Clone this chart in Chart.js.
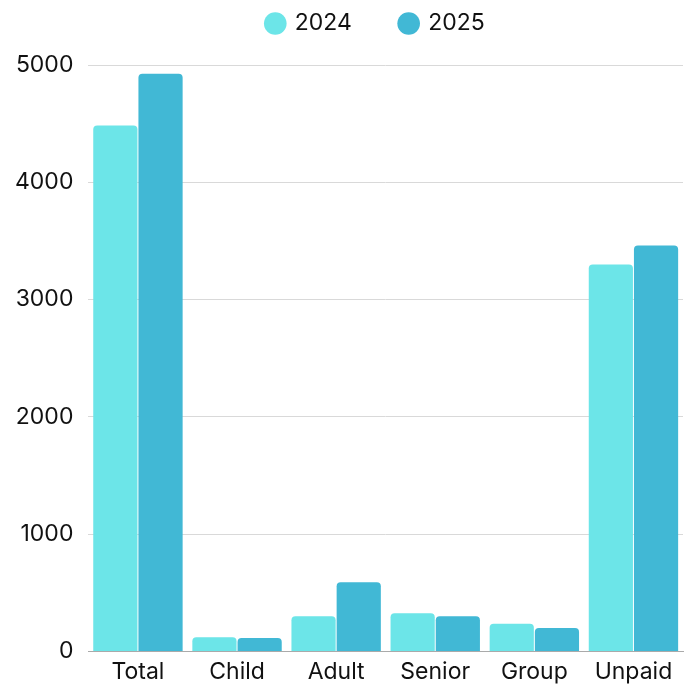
<!DOCTYPE html>
<html>
<head>
<meta charset="utf-8">
<script src="https://cdn.jsdelivr.net/npm/chart.js@4/dist/chart.umd.min.js"></script>
<style>
  html, body { margin: 0; padding: 0; background: #fff; }
  #wrap { width: 688px; height: 688px; }
</style>
</head>
<body>
<div id="wrap"><canvas id="chart"></canvas></div>
<script>
var categories = ["Total", "Child", "Adult", "Senior", "Group", "Unpaid"];
var values2024 = [4485, 120, 300, 325, 235, 3300];
var values2025 = [4925, 115, 590, 300, 200, 3460];
var yTicks = [0, 1000, 2000, 3000, 4000, 5000];

Chart.defaults.font.family = "Inter, 'Noto Sans', sans-serif";
Chart.defaults.color = "#111";

// extra room between legend and plot
var legendGap = {
    id: 'legendGap',
    beforeUpdate: function(chart) {
        var lg = chart.legend;
        if (lg && !lg._gapDone) {
            var fit = lg.fit;
            lg.fit = function() {
                fit.call(this);
                this.height += 20;
            };
            lg._gapDone = true;
        }
    }
};

var ctx = document.getElementById('chart');
new Chart(ctx, {
    type: 'bar',
    data: {
        labels: categories,
        datasets: [{
            label: "2024",
            data: values2024,
            backgroundColor: '#6ce5e8',
            borderRadius: { topLeft: 4, topRight: 4 },
            borderSkipped: 'bottom',
            categoryPercentage: 0.912,
            barPercentage: 0.978
        }, {
            label: "2025",
            data: values2025,
            backgroundColor: '#41b8d5',
            borderRadius: { topLeft: 4, topRight: 4 },
            borderSkipped: 'bottom',
            categoryPercentage: 0.912,
            barPercentage: 0.978
        }]
    },
    plugins: [legendGap],
    options: {
        responsive: true,
        maintainAspectRatio: false,
        animation: false,
        layout: { padding: { left: 0, right: 5, bottom: -5, top: 2 } },
        plugins: {
            legend: {
                position: 'top',
                fullSize: false,
                labels: {
                    usePointStyle: true,
                    pointStyle: 'circle',
                    boxWidth: 16,
                    boxHeight: 16,
                    padding: 10,
                    font: { size: 23 },
                    generateLabels: function(chart) {
                        var items = Chart.defaults.plugins.legend.labels.generateLabels(chart);
                        // spacing between entries, and nudge the row a bit left
                        items[0].text = items[0].text + "      ";
                        items[1].text = items[1].text + "   ";
                        return items;
                    }
                }
            },
            tooltip: { enabled: false }
        },
        scales: {
            x: {
                grid: { display: false, drawTicks: false },
                border: { color: '#aaa' },
                ticks: { font: { size: 23 }, padding: 7 }
            },
            y: {
                min: 0,
                max: 5000,
                afterBuildTicks: function(axis) {
                    axis.ticks = yTicks.map(function(v) { return { value: v }; });
                },
                grid: { color: '#d9d9d9', drawTicks: false },
                border: { display: false },
                ticks: {
                    font: { size: 23 },
                    padding: 15,
                    callback: function(v) { return String(v); }
                }
            }
        }
    }
});
</script>
</body>
</html>
